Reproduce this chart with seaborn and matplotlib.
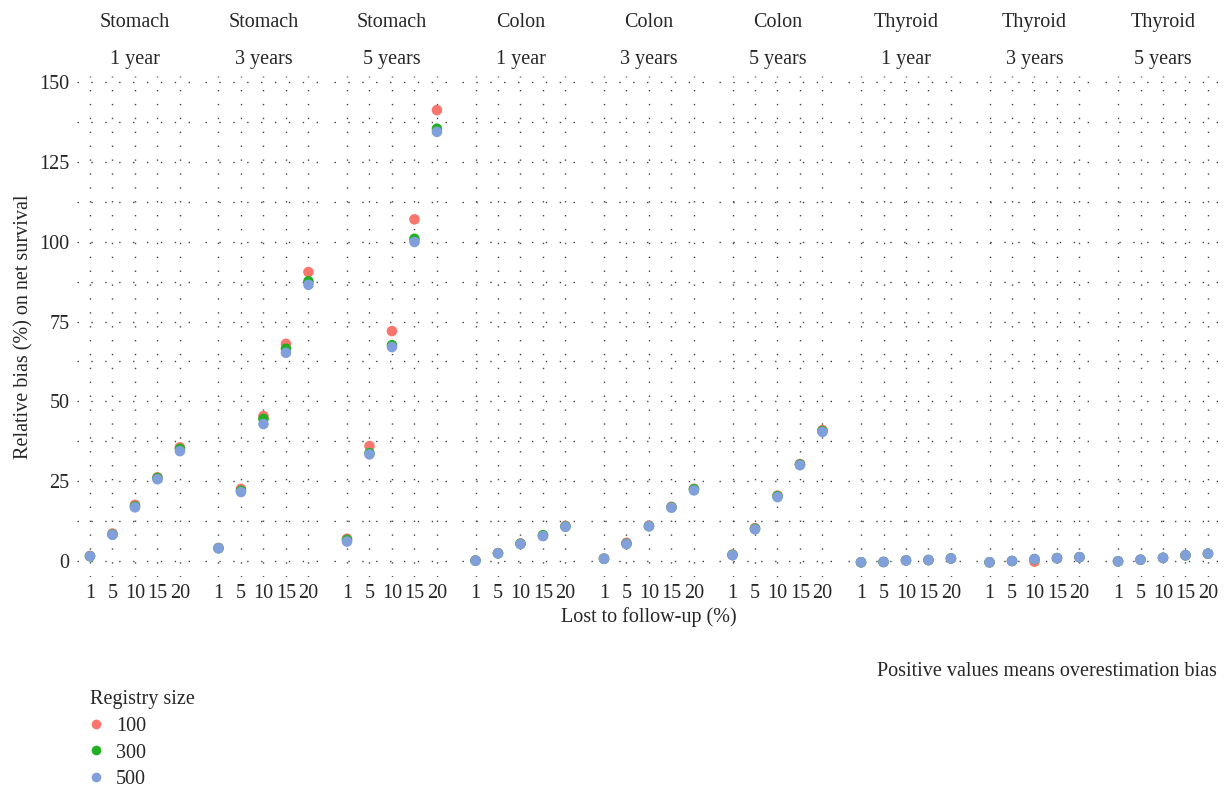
import pandas as pd
import matplotlib.pyplot as plt
import seaborn as sns
import numpy as np
from matplotlib.ticker import MultipleLocator
from matplotlib.lines import Line2D

# ---- data ----
sites = ["Stomach", "Stomach", "Stomach", "Colon", "Colon", "Colon", "Thyroid", "Thyroid", "Thyroid"]
horizons = ["1 year", "3 years", "5 years"] * 3
lost_levels = ["1", "5", "10", "15", "20"]
registry_sizes = ["100", "300", "500"]

bias_100 = [
    [1.6, 8.6, 17.6, 26.2, 35.6],
    [4.1, 22.6, 45.4, 68.0, 90.5],
    [7.0, 36.0, 72.0, 107.0, 141.2],
    [0.2, 2.5, 5.5, 7.9, 11.0],
    [0.8, 5.7, 11.1, 17.0, 22.6],
    [2.0, 10.3, 20.5, 30.4, 41.0],
    [-0.4, -0.3, 0.2, 0.3, 0.8],
    [-0.4, 0.0, -0.2, 0.9, 1.2],
    [-0.1, 0.4, 1.0, 1.8, 2.3],
]
bias_300 = [
    [1.5, 8.3, 17.1, 26.0, 35.1],
    [4.0, 22.0, 44.5, 66.5, 87.6],
    [6.6, 33.8, 67.6, 100.9, 135.4],
    [0.1, 2.4, 5.4, 8.1, 10.8],
    [0.7, 5.4, 10.9, 16.8, 22.5],
    [1.9, 10.1, 20.3, 30.2, 40.7],
    [-0.4, -0.3, 0.2, 0.3, 0.8],
    [-0.4, 0.0, 0.6, 0.9, 1.2],
    [-0.1, 0.4, 1.0, 1.8, 2.3],
]
bias_500 = [
    [1.5, 8.2, 16.8, 25.6, 34.4],
    [4.0, 21.6, 42.9, 65.2, 86.5],
    [6.1, 33.4, 67.0, 99.9, 134.4],
    [0.1, 2.4, 5.3, 7.8, 10.7],
    [0.7, 5.3, 10.9, 16.7, 22.1],
    [1.8, 9.9, 20.0, 30.0, 40.4],
    [-0.4, -0.3, 0.2, 0.3, 0.8],
    [-0.4, 0.0, 0.6, 0.9, 1.2],
    [-0.1, 0.4, 1.0, 1.8, 2.3],
]

rows = []
for size, table in zip(registry_sizes, [bias_100, bias_300, bias_500]):
    for p, vals in enumerate(table):
        for lvl, v in zip(lost_levels, vals):
            rows.append({"panel": p, "lost": lvl, "size": size, "bias": v})
df = pd.DataFrame(rows)

palette = {"100": "#F8766D", "300": "#22B022", "500": "#819FDB"}

# ---- style ----
sns.set_style("white")
plt.rcParams['font.family'] = ['Liberation Serif', 'DejaVu Serif']
plt.rcParams['font.size'] = 14.5

fig, axes = plt.subplots(1, 9, figsize=(12.26, 7.88), dpi=100, sharey=True)
fig.subplots_adjust(left=0.0624, right=0.9963, bottom=0.2678, top=0.904, wspace=0.099)

grid_kw = dict(color='#444444', linestyle=(0, (1, 9)), linewidth=1.0)

for p, ax in enumerate(axes):
    sub = df[df["panel"] == p]
    sns.stripplot(data=sub, x="lost", y="bias", hue="size", order=lost_levels,
                  hue_order=registry_sizes, palette=palette, jitter=False,
                  dodge=False, size=7.6, linewidth=0, legend=False, ax=ax, zorder=3)
    ax.set_xlim(-0.6, 4.6)
    ax.set_ylim(-5, 152)
    ax.yaxis.set_major_locator(MultipleLocator(25))
    ax.yaxis.set_minor_locator(MultipleLocator(12.5))
    ax.grid(True, which='major', axis='both', **grid_kw)
    ax.grid(True, which='minor', axis='y', **grid_kw)
    ax.set_axisbelow(True)
    for s in ax.spines.values():
        s.set_visible(False)
    ax.tick_params(axis='both', which='both', length=0, labelsize=14.5, pad=5)
    ax.set_xlabel("")
    ax.set_ylabel("")
    ax.text(0.5, 1.107, sites[p], transform=ax.transAxes, ha='center', va='center', fontsize=14.5)
    ax.text(0.5, 1.033, horizons[p], transform=ax.transAxes, ha='center', va='center', fontsize=14.5)

axes[0].set_ylabel("Relative bias (%) on net survival", fontsize=14.5, labelpad=4)

fig.text(0.529, 1 - 617 / 788, "Lost to follow-up (%)", ha='center', va='center', fontsize=14.5)
fig.text(1217 / 1226, 1 - 671 / 788, "Positive values means overestimation bias",
         ha='right', va='center', fontsize=14.5)

handles = [Line2D([], [], marker='o', linestyle='', markersize=7, markeredgewidth=0,
                  color=palette[s]) for s in registry_sizes]
leg = fig.legend(handles, registry_sizes, title="Registry size", loc='upper left',
                 bbox_to_anchor=(90 / 1226, 1 - 690 / 788), frameon=False,
                 handlelength=0.6, handletextpad=0.7, labelspacing=0.38,
                 borderpad=0, borderaxespad=0, fontsize=14.5, title_fontsize=14.5)
leg._legend_box.align = "left"

plt.savefig("out.png", dpi=100)
